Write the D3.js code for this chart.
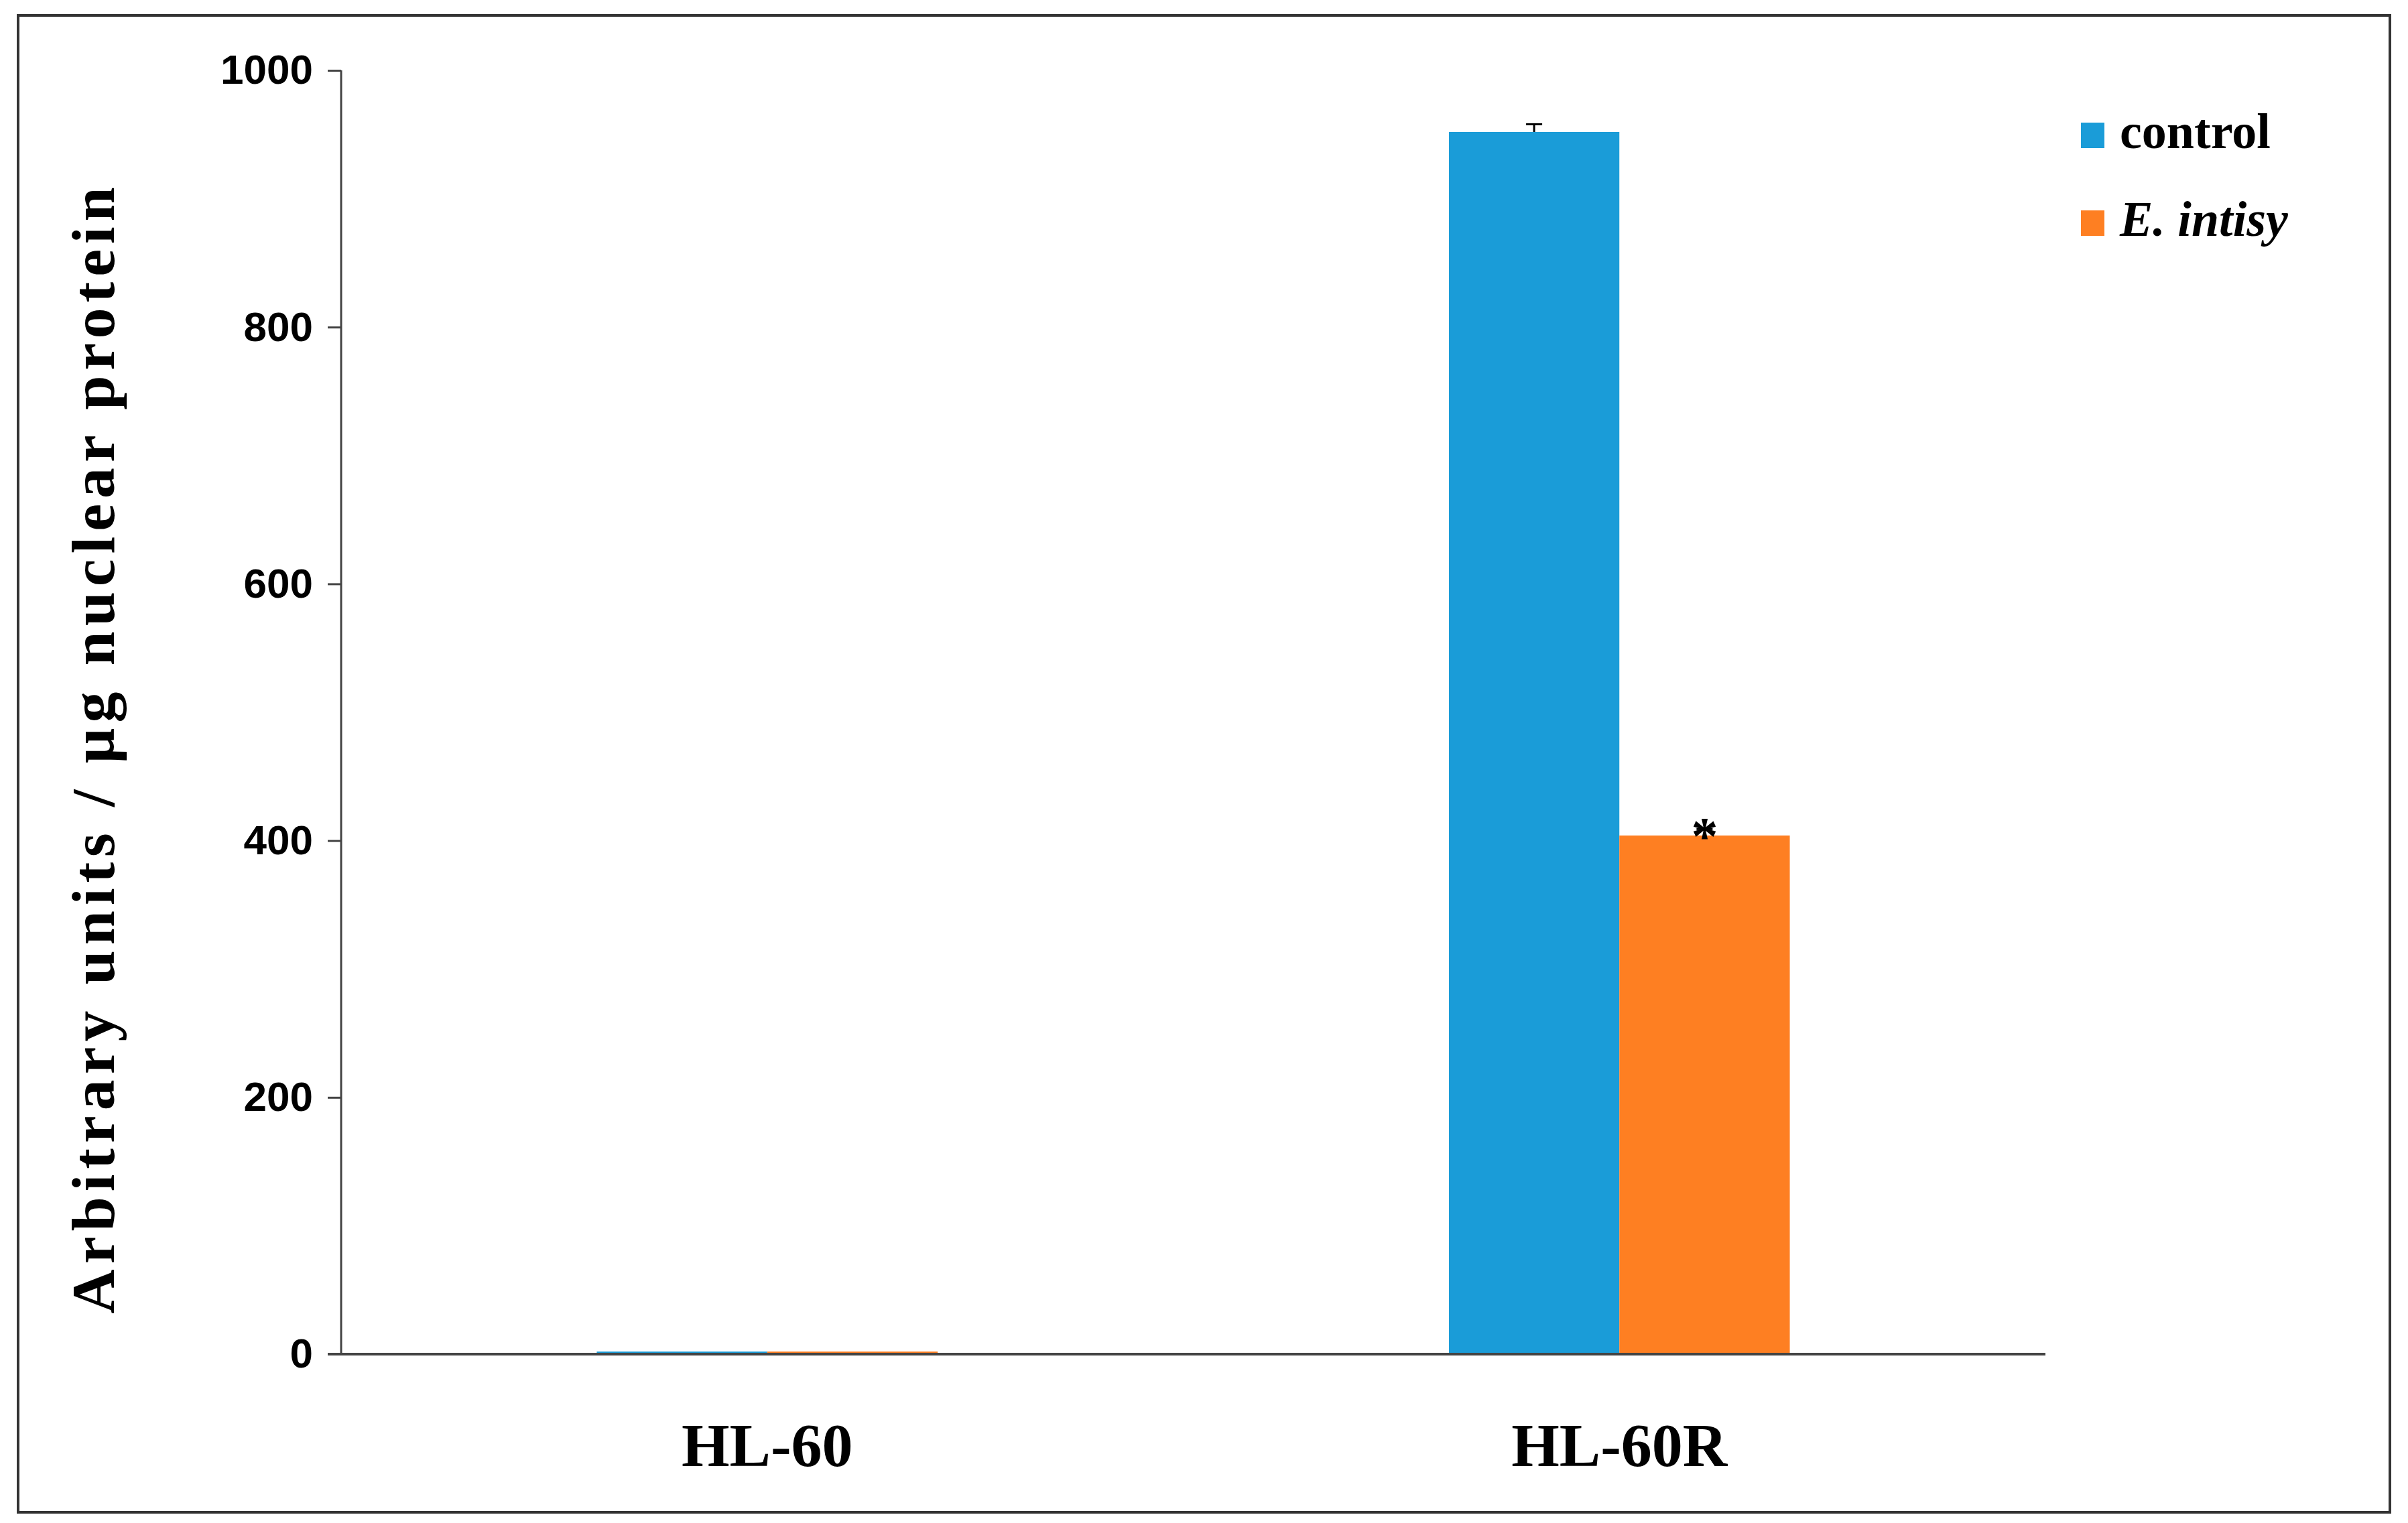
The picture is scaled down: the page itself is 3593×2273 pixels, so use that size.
<!DOCTYPE html>
<html><head><meta charset="utf-8">
<script src="https://cdn.jsdelivr.net/npm/d3@7"></script>
<style>body{margin:0;background:#fff}</style>
</head><body>
<script>
var categories = ["HL-60", "HL-60R"],
series = ["control", "E. intisy"],
controlVals = [2, 952],
intisyVals = [2, 404],
controlErr = [0, 6],
intisyErr = [0, 5],
yTicks = [0, 200, 400, 600, 800, 1000],
colors = ["#1a9cd8", "#fe7f22"];

var width = 3593, height = 2273,
plotLeft = 509, plotRight = 3052, plotTop = 105, plotBottom = 2021;

var svg = d3.select("body").append("svg")
.attr("width", width)
.attr("height", height);

// outer frame
svg.append("rect").attr("x", 27).attr("y", 23).attr("width", 3539).attr("height", 2234)
.attr("fill", "none").attr("stroke", "#333").attr("stroke-width", 4);

var x = d3.scaleBand().domain(categories).range([plotLeft, plotRight]);
var sub = d3.scaleBand().domain(series).range([x.bandwidth() * 0.3, x.bandwidth() * 0.7]);
var y = d3.scaleLinear().domain([0, 1000]).range([plotBottom, plotTop]);

var data = categories.map(function(c, i) {
	return [{c: c, s: series[0], v: controlVals[i], e: controlErr[i], col: colors[0]},
		{c: c, s: series[1], v: intisyVals[i], e: intisyErr[i], col: colors[1]}];
});
var flat = [].concat.apply([], data);

svg.selectAll("rect.bar").data(flat).enter().append("rect")
.attr("class", "bar")
.attr("x", function(d){return x(d.c) + sub(d.s)})
.attr("width", sub.bandwidth())
.attr("y", function(d){return y(d.v)})
.attr("height", function(d){return y(0) - y(d.v)})
.attr("fill", function(d){return d.col});

// error bars
var errs = flat.filter(function(d){return d.e > 0});
errs.forEach(function(d) {
	var cx = x(d.c) + sub(d.s) + sub.bandwidth() / 2;
	svg.append("line").attr("x1", cx).attr("x2", cx).attr("y1", y(d.v)).attr("y2", y(d.v + d.e))
	.attr("stroke", "#000").attr("stroke-width", 3);
	svg.append("line").attr("x1", cx - 12).attr("x2", cx + 12).attr("y1", y(d.v + d.e)).attr("y2", y(d.v + d.e))
	.attr("stroke", "#000").attr("stroke-width", 3);
});

// significance star
var starD = flat[3];
svg.append("text")
.attr("x", x(starD.c) + sub(starD.s) + sub.bandwidth() / 2)
.attr("y", y(starD.v + starD.e) + 38)
.attr("text-anchor", "middle")
.style("font", "bold 80px 'Liberation Serif'")
.text("*");

// y axis
var yAxis = svg.append("g").attr("transform", "translate(" + plotLeft + ",0)")
.call(d3.axisLeft(y).tickValues(yTicks).tickFormat(d3.format("d")).tickSize(20).tickPadding(22));
yAxis.select(".domain").attr("stroke", "#444").attr("stroke-width", 3).attr("d", "M0," + plotTop + "V" + plotBottom);
yAxis.selectAll(".tick line").attr("stroke", "#444").attr("stroke-width", 3);
yAxis.selectAll("text").style("font", "bold 62px 'Liberation Sans'").attr("fill", "#000");

// x axis line
svg.append("line").attr("x1", plotLeft - 20).attr("x2", plotRight).attr("y1", plotBottom).attr("y2", plotBottom)
.attr("stroke", "#444").attr("stroke-width", 4);

svg.selectAll("text.cat").data(categories).enter().append("text")
.attr("class", "cat")
.attr("x", function(d){return x(d) + x.bandwidth() / 2})
.attr("y", 2188)
.attr("text-anchor", "middle")
.style("font", "bold 92px 'Liberation Serif'")
.text(function(d){return d});

svg.append("text")
.attr("transform", "translate(170,1116) rotate(-90)")
.attr("text-anchor", "middle")
.style("font", "bold 92px 'Liberation Serif'")
.style("letter-spacing", "8px")
.text("Arbitrary units / \u00b5g nuclear protein");

// legend
var leg = svg.selectAll("g.leg").data(series).enter().append("g")
.attr("class", "leg")
.attr("transform", function(d, i){return "translate(3105," + (183 + i * 131) + ")"});
leg.append("rect").attr("width", 35).attr("height", 38).attr("fill", function(d, i){return colors[i]});
leg.append("text").attr("x", 58).attr("y", 38)
.style("font-family", "'Liberation Serif'").style("font-weight", "bold").style("font-size", "74px")
.style("font-style", function(d, i){return i ? "italic" : "normal"})
.text(function(d){return d});
</script>
</body></html>
